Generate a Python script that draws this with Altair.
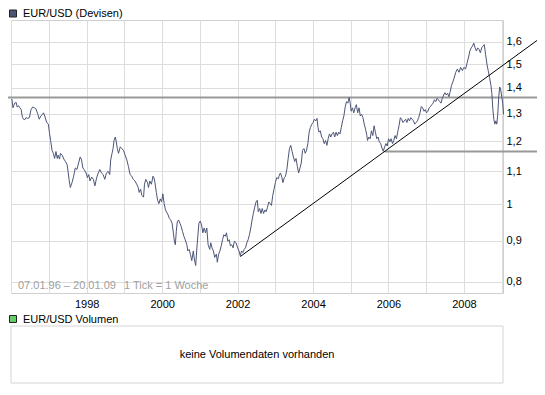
import altair as alt
import pandas as pd

# ---- data (decimal year, EUR/USD rate) ----
years = [1996.016, 1996.044, 1996.089, 1996.130, 1996.156, 1996.193, 1996.227, 1996.261, 1996.297, 1996.349,
         1996.391, 1996.436, 1996.480, 1996.522, 1996.566, 1996.610, 1996.652, 1996.696, 1996.741, 1996.782,
         1996.827, 1996.853, 1996.887, 1996.939, 1996.983, 1997.009, 1997.043, 1997.080, 1997.114, 1997.148,
         1997.184, 1997.218, 1997.244, 1997.278, 1997.304, 1997.349, 1997.393, 1997.435, 1997.479, 1997.505,
         1997.531, 1997.565, 1997.610, 1997.654, 1997.696, 1997.740, 1997.784, 1997.826, 1997.863, 1997.897,
         1997.930, 1997.983, 1998.019, 1998.053, 1998.087, 1998.131, 1998.176, 1998.217, 1998.262, 1998.306,
         1998.348, 1998.392, 1998.436, 1998.478, 1998.523, 1998.567, 1998.609, 1998.635, 1998.671, 1998.698,
         1998.724, 1998.758, 1998.784, 1998.810, 1998.844, 1998.888, 1998.932, 1998.974, 1999.018, 1999.063,
         1999.105, 1999.149, 1999.193, 1999.235, 1999.279, 1999.324, 1999.365, 1999.391, 1999.428, 1999.462,
         1999.506, 1999.532, 1999.566, 1999.611, 1999.637, 1999.671, 1999.715, 1999.757, 1999.783, 1999.809,
         1999.845, 1999.879, 1999.913, 1999.950, 1999.984, 2000.018, 2000.054, 2000.088, 2000.158, 2000.192,
         2000.226, 2000.263, 2000.297, 2000.323, 2000.349, 2000.375, 2000.401, 2000.435, 2000.471, 2000.505,
         2000.539, 2000.576, 2000.610, 2000.654, 2000.680, 2000.714, 2000.748, 2000.785, 2000.826, 2000.852,
         2000.889, 2000.915, 2000.941, 2000.975, 2001.009, 2001.045, 2001.079, 2001.113, 2001.150, 2001.184,
         2001.218, 2001.262, 2001.288, 2001.322, 2001.359, 2001.393, 2001.437, 2001.463, 2001.497, 2001.531,
         2001.567, 2001.601, 2001.635, 2001.672, 2001.706, 2001.740, 2001.776, 2001.810, 2001.844, 2001.881,
         2001.915, 2001.959, 2002.001, 2002.037, 2002.071, 2002.105, 2002.141, 2002.175, 2002.209, 2002.246,
         2002.280, 2002.314, 2002.350, 2002.384, 2002.418, 2002.454, 2002.488, 2002.522, 2002.548, 2002.585,
         2002.619, 2002.653, 2002.689, 2002.723, 2002.757, 2002.794, 2002.828, 2002.862, 2002.898, 2002.932,
         2002.966, 2003.002, 2003.036, 2003.081, 2003.097, 2003.133, 2003.167, 2003.201, 2003.237, 2003.271,
         2003.305, 2003.341, 2003.375, 2003.409, 2003.446, 2003.480, 2003.514, 2003.550, 2003.584, 2003.618,
         2003.654, 2003.688, 2003.722, 2003.759, 2003.793, 2003.827, 2003.863, 2003.897, 2003.931, 2003.968,
         2004.002, 2004.036, 2004.072, 2004.106, 2004.132, 2004.158, 2004.192, 2004.229, 2004.263, 2004.296,
         2004.333, 2004.367, 2004.401, 2004.437, 2004.471, 2004.505, 2004.541, 2004.575, 2004.609, 2004.646,
         2004.680, 2004.714, 2004.750, 2004.784, 2004.818, 2004.855, 2004.889, 2004.923, 2004.959, 2004.985,
         2005.011, 2005.045, 2005.079, 2005.115, 2005.149, 2005.183, 2005.220, 2005.254, 2005.288, 2005.324,
         2005.358, 2005.392, 2005.428, 2005.444, 2005.481, 2005.515, 2005.549, 2005.585, 2005.619, 2005.653,
         2005.690, 2005.724, 2005.758, 2005.794, 2005.828, 2005.862, 2005.899, 2005.933, 2005.967, 2006.003,
         2006.037, 2006.071, 2006.107, 2006.141, 2006.175, 2006.211, 2006.245, 2006.279, 2006.316, 2006.350,
         2006.384, 2006.420, 2006.454, 2006.488, 2006.524, 2006.558, 2006.592, 2006.629, 2006.663, 2006.697,
         2006.733, 2006.767, 2006.801, 2006.837, 2006.871, 2006.905, 2006.942, 2006.976, 2007.010, 2007.046,
         2007.080, 2007.114, 2007.150, 2007.184, 2007.218, 2007.255, 2007.289, 2007.323, 2007.359, 2007.393,
         2007.427, 2007.464, 2007.498, 2007.532, 2007.568, 2007.602, 2007.636, 2007.672, 2007.706, 2007.740,
         2007.784, 2007.828, 2007.870, 2007.914, 2007.959, 2008.001, 2008.045, 2008.089, 2008.131, 2008.157,
         2008.194, 2008.228, 2008.262, 2008.298, 2008.332, 2008.366, 2008.403, 2008.437, 2008.471, 2008.507,
         2008.541, 2008.575, 2008.611, 2008.645, 2008.680, 2008.716, 2008.742, 2008.768, 2008.794, 2008.820,
         2008.846, 2008.872, 2008.898, 2008.924, 2008.950, 2008.977, 2009.003, 2009.029, 2009.052]

rates = [1.356, 1.322, 1.340, 1.342, 1.325, 1.330, 1.322, 1.315, 1.285, 1.276,
         1.285, 1.282, 1.285, 1.315, 1.325, 1.322, 1.318, 1.301, 1.279, 1.291,
         1.297, 1.303, 1.291, 1.267, 1.261, 1.232, 1.203, 1.169, 1.159, 1.142,
         1.165, 1.142, 1.153, 1.140, 1.159, 1.153, 1.140, 1.132, 1.122, 1.100,
         1.075, 1.050, 1.065, 1.085, 1.111, 1.106, 1.127, 1.147, 1.137, 1.111,
         1.106, 1.095, 1.080, 1.090, 1.070, 1.082, 1.075, 1.055, 1.080, 1.095,
         1.106, 1.095, 1.090, 1.075, 1.095, 1.100, 1.090, 1.137, 1.159, 1.175,
         1.203, 1.215, 1.198, 1.175, 1.159, 1.181, 1.175, 1.169, 1.153, 1.137,
         1.116, 1.090, 1.085, 1.075, 1.070, 1.060, 1.050, 1.035, 1.045, 1.026,
         1.021, 1.060, 1.075, 1.065, 1.050, 1.070, 1.060, 1.085, 1.080, 1.065,
         1.035, 1.012, 1.002, 1.016, 1.007, 1.031, 1.002, 0.984, 0.970, 0.960,
         0.956, 0.947, 0.921, 0.899, 0.890, 0.925, 0.951, 0.956, 0.947, 0.938,
         0.925, 0.912, 0.903, 0.890, 0.874, 0.878, 0.866, 0.850, 0.874, 0.854,
         0.838, 0.874, 0.907, 0.947, 0.953, 0.942, 0.921, 0.934, 0.921, 0.934,
         0.890, 0.878, 0.895, 0.882, 0.874, 0.858, 0.866, 0.846, 0.866, 0.874,
         0.887, 0.903, 0.916, 0.912, 0.921, 0.899, 0.903, 0.887, 0.890, 0.882,
         0.899, 0.895, 0.882, 0.874, 0.862, 0.874, 0.870, 0.878, 0.882, 0.895,
         0.903, 0.916, 0.934, 0.956, 0.974, 0.992, 1.007, 1.012, 0.979, 0.988,
         0.974, 0.988, 0.974, 0.984, 0.979, 0.992, 1.007, 1.002, 0.997, 1.026,
         1.045, 1.065, 1.080, 1.077, 1.085, 1.095, 1.085, 1.065, 1.080, 1.085,
         1.106, 1.142, 1.175, 1.186, 1.165, 1.147, 1.132, 1.142, 1.116, 1.095,
         1.111, 1.127, 1.169, 1.175, 1.159, 1.169, 1.192, 1.232, 1.249, 1.261,
         1.267, 1.279, 1.273, 1.282, 1.249, 1.232, 1.237, 1.215, 1.209, 1.192,
         1.203, 1.186, 1.209, 1.226, 1.215, 1.226, 1.232, 1.215, 1.232, 1.220,
         1.232, 1.226, 1.249, 1.273, 1.291, 1.327, 1.346, 1.340, 1.362, 1.340,
         1.309, 1.322, 1.303, 1.322, 1.334, 1.303, 1.322, 1.291, 1.297, 1.285,
         1.261, 1.243, 1.220, 1.203, 1.215, 1.209, 1.237, 1.220, 1.255, 1.232,
         1.209, 1.215, 1.198, 1.192, 1.177, 1.166, 1.181, 1.192, 1.184, 1.209,
         1.198, 1.209, 1.192, 1.203, 1.220, 1.209, 1.232, 1.255, 1.285, 1.279,
         1.267, 1.273, 1.279, 1.267, 1.282, 1.273, 1.285, 1.279, 1.273, 1.261,
         1.267, 1.273, 1.285, 1.303, 1.327, 1.322, 1.309, 1.315, 1.303, 1.309,
         1.322, 1.327, 1.334, 1.340, 1.353, 1.346, 1.359, 1.353, 1.346, 1.340,
         1.359, 1.372, 1.381, 1.372, 1.379, 1.365, 1.385, 1.411, 1.424, 1.440,
         1.465, 1.479, 1.465, 1.486, 1.472, 1.486, 1.479, 1.507, 1.536, 1.558,
         1.572, 1.580, 1.594, 1.572, 1.558, 1.572, 1.565, 1.550, 1.572, 1.580,
         1.587, 1.543, 1.500, 1.472, 1.444, 1.411, 1.379, 1.315, 1.279, 1.261,
         1.273, 1.261, 1.297, 1.365, 1.404, 1.392, 1.365, 1.340, 1.297]

# horizontal support / resistance lines and the trend line
upper_level = 1.362
upper_span = [1995.80, 2010.60]
lower_level = 1.165
lower_span = [2005.90, 2010.60]
trend_years = [2002.071, 2010.133]
trend_rates = [0.860, 1.631]

# axes
x_ticks = list(range(1996, 2010))
y_ticks = [0.8, 0.9, 1.0, 1.1, 1.2, 1.3, 1.4, 1.5, 1.6]
x_domain = [1995.992, 2009.037]
y_domain = [0.774, 1.704]

# texts
title_text = "EUR/USD (Devisen)"
volume_title = "EUR/USD Volumen"
no_volume_text = "keine Volumendaten vorhanden"
range_text = "07.01.96 \u2013 20.01.09"
tick_text = "1 Tick = 1 Woche"

W, H = 492, 273
TOP, BOTTOM, LEFT, RIGHT = 12, 91, 3, 34
FONT = "Liberation Sans"
LINE_COLOR = "#4c5577"
GRID = "#dddddd"

price = pd.DataFrame({"year": years, "rate": rates})
levels = pd.DataFrame({
    "x1": [upper_span[0], lower_span[0]],
    "x2": [upper_span[1], lower_span[1]],
    "level": [upper_level, lower_level],
})
trend = pd.DataFrame({"year": trend_years, "rate": trend_rates})
one = pd.DataFrame({"k": [0]})

xscale = alt.Scale(domain=x_domain, nice=False, zero=False)
yscale = alt.Scale(type="log", domain=y_domain, nice=False, zero=False)

x_axis = alt.Axis(
    values=x_ticks, grid=True, gridColor=GRID, gridWidth=1, ticks=False, domain=False,
    labelExpr="datum.value % 2 == 0 && datum.value > 1996 ? '' + datum.value : ''",
    labelFont=FONT, labelFontSize=11, labelColor="#000000", labelPadding=5,
    labelOverlap=False, labelFlush=False, title=None,
)
y_axis = alt.Axis(
    orient="right", values=y_ticks, grid=True, gridColor=GRID, gridWidth=1, ticks=False,
    domain=False, labelExpr="replace(format(datum.value, '.1~f'), '.', ',')",
    labelFont=FONT, labelFontSize=11, labelColor="#000000", labelPadding=3,
    labelOverlap=False, labelBound=False, title=None,
)

level_rules = alt.Chart(levels).mark_rule(color="#999999", strokeWidth=2, clip=False).encode(
    x=alt.X("x1:Q", scale=xscale, axis=x_axis),
    x2="x2:Q",
    y=alt.Y("level:Q", scale=yscale, axis=y_axis),
)

price_line = alt.Chart(price).mark_line(color=LINE_COLOR, strokeWidth=1).encode(
    x=alt.X("year:Q", scale=xscale, axis=x_axis),
    y=alt.Y("rate:Q", scale=yscale, axis=y_axis),
)

trend_line = alt.Chart(trend).mark_line(color="#000000", strokeWidth=1, clip=False).encode(
    x=alt.X("year:Q", scale=xscale, axis=x_axis),
    y=alt.Y("rate:Q", scale=yscale, axis=y_axis),
)

txt = dict(font=FONT, fontSize=11, baseline="middle", align="left")

title_icon = alt.Chart(one).mark_square(size=49, fill="#4d5575", stroke="#222222",
                                          strokeWidth=1, opacity=1).encode(
    x=alt.value(2), y=alt.value(-6.5))
title_lbl = alt.Chart(one).mark_text(color="#000000", **txt).encode(
    x=alt.value(12), y=alt.value(-6), text=alt.value(title_text))

range_lbl = alt.Chart(one).mark_text(color="#a0a0a0", **txt).encode(
    x=alt.value(7), y=alt.value(H - 7), text=alt.value(range_text))
tick_lbl = alt.Chart(one).mark_text(color="#a0a0a0", **txt).encode(
    x=alt.value(113), y=alt.value(H - 7), text=alt.value(tick_text))

vol_icon = alt.Chart(one).mark_square(size=49, fill="#66cc66", stroke="#222222",
                                        strokeWidth=1, opacity=1).encode(
    x=alt.value(2), y=alt.value(H + 26))
vol_lbl = alt.Chart(one).mark_text(color="#000000", **txt).encode(
    x=alt.value(12), y=alt.value(H + 26.5), text=alt.value(volume_title))
vol_box = alt.Chart(one).mark_rect(fill="#ffffff", stroke="#d4d4d4", strokeWidth=1).encode(
    x=alt.value(0), x2=alt.value(W), y=alt.value(H + 33), y2=alt.value(H + 90))
vol_txt = alt.Chart(one).mark_text(color="#000000", font=FONT, fontSize=11,
                                   baseline="middle", align="center").encode(
    x=alt.value(W / 2), y=alt.value(H + 62), text=alt.value(no_volume_text))

chart = alt.layer(
    level_rules, price_line, trend_line,
    title_icon, title_lbl, range_lbl, tick_lbl,
    vol_box, vol_icon, vol_lbl, vol_txt,
).properties(
    width=W, height=H,
    padding={"left": LEFT, "top": TOP, "right": RIGHT, "bottom": BOTTOM},
    autosize=alt.AutoSizeParams(type="none"),
    background="#ffffff",
).configure_view(stroke="#cfcfcf", strokeWidth=1)

chart.save("out.html", embed_options={"renderer": "svg", "actions": False})
